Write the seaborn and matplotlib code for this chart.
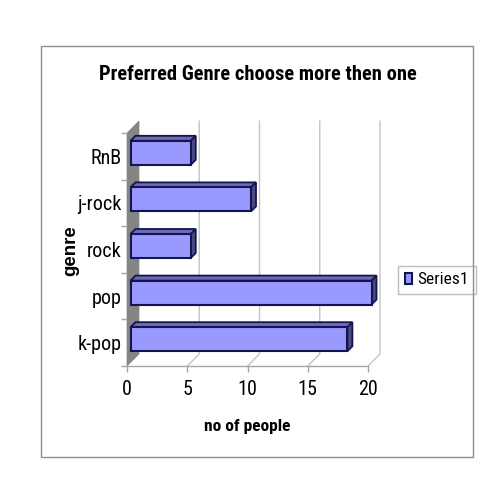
import matplotlib
matplotlib.use("Agg")
import matplotlib.pyplot as plt
import seaborn as sns
import pandas as pd
import numpy as np
from matplotlib.patches import Polygon, Rectangle
from matplotlib.lines import Line2D
from matplotlib.transforms import Affine2D, IdentityTransform

genres = ["RnB", "j-rock", "rock", "pop", "k-pop"]
people = [5, 10, 5, 20, 18]
xticks = [0, 5, 10, 15, 20]
series_name = "Series1"

sns.set_theme(style="white")
plt.rcParams['font.family'] = ['Roboto Condensed', 'Liberation Sans', 'DejaVu Sans']
plt.rcParams['text.color'] = 'black'

W, H = 480, 480
fig = plt.figure(figsize=(4.8, 4.8), dpi=100, facecolor="white")

# front plane of the fake 3d box, in pixels from the top left
left, right, top, bottom = 127, 368, 133, 366
ax = fig.add_axes([left / W, 1 - bottom / H, (right - left) / W, (bottom - top) / H])
ax.patch.set_alpha(0)

df = pd.DataFrame({"genre": genres, "people": people})
sns.barplot(data=df, x="people", y="genre", order=genres, color="#9999FF", width=24 / 46.6,
            saturation=1, edgecolor="#14144F", linewidth=1.5, label=series_name, ax=ax, zorder=4)
ax.set_xlim(0, 20)
ax.set_ylim(4.5, -0.5)

grey = "#A6A6A6"
wall = 12    # depth of the box
off = 3.5    # bars sit a little behind the front plane
depth = 5    # depth of the bars

to_px = ax.transData.transform
shift = ax.transData + Affine2D().translate(off, off)

# side wall and gridlines at the back
x0, y0 = to_px((0, 4.5))
x1, y1 = to_px((0, -0.5))
fig.add_artist(Polygon([(x0, y0), (x0 + wall, y0 + wall), (x1 + wall, y1 + wall), (x1, y1)],
                       closed=True, transform=IdentityTransform(), fc="#858585", ec="#858585", lw=0.5, zorder=0))
for t in xticks[1:]:
    a, b = to_px((t, 4.5))
    c, d = to_px((t, -0.5))
    fig.add_artist(Line2D([a, a + wall, c + wall], [b, b + wall, d + wall], color="#C4C4C4", lw=1,
                          transform=IdentityTransform(), zorder=0))

for bar in ax.patches:
    bar.set_transform(shift)
    bar.set_clip_on(False)
    bx, by = bar.get_x(), bar.get_y()
    bw, bh = bar.get_width(), bar.get_height()
    (xa, ya), (xb, yb) = shift.transform([(bx + bw, by), (bx, by + bh)])
    # ya is the upper edge because the y axis is inverted
    ax.add_patch(Polygon([(xb, ya), (xb + depth, ya + depth), (xa + depth, ya + depth), (xa, ya)], closed=True,
                         transform=IdentityTransform(), fc="#6B6BB8", ec="#14144F", lw=1.3, clip_on=False, zorder=3))
    ax.add_patch(Polygon([(xa, ya), (xa + depth, ya + depth), (xa + depth, yb + depth), (xa, yb)], closed=True,
                         transform=IdentityTransform(), fc="#4A4A85", ec="#14144F", lw=1.3, clip_on=False, zorder=3))

for side in ["top", "right", "left"]:
    ax.spines[side].set_visible(False)
ax.spines["bottom"].set_color(grey)
ax.spines["bottom"].set_linewidth(1)

ax.set_xticks(xticks)
ax.tick_params(axis="x", length=4, width=1, color=grey, labelsize=14.5, labelcolor="black", pad=6, bottom=True)
ax.tick_params(axis="y", which="major", length=0, labelsize=14.5, labelcolor="black", pad=4)
ax.set_yticks(np.arange(-0.5, 5), minor=True)
ax.tick_params(axis="y", which="minor", length=4, width=1, color=grey, left=True)

ax.set_xlabel("")
ax.set_ylabel("")
fig.text(247 / W, 1 - 426 / H, "no of people", ha="center", va="center", fontsize=12.5, fontweight="bold")
fig.text(71 / W, 1 - 251 / H, "genre", ha="center", va="center", rotation=90, fontsize=13.5,
         fontweight="bold", family="Liberation Sans")
fig.text(257.5 / W, 1 - 75 / H, "Preferred Genre choose more then one", ha="center", va="center",
         fontsize=14.8, fontweight="bold")

leg = ax.legend(loc="center left", bbox_to_anchor=(398 / W, 1 - 280 / H), bbox_transform=fig.transFigure,
                fontsize=12.5, frameon=True, fancybox=False, edgecolor="#BDBDBD", framealpha=1,
                handlelength=0.4, handleheight=0.6, handletextpad=0.3, borderpad=0.4, borderaxespad=0)
leg.get_frame().set_linewidth(1)

fig.add_artist(Rectangle((41 / W, 1 - 457 / H), 432 / W, 411 / H, transform=fig.transFigure,
                         fill=False, ec="#8C8C8C", lw=1))

fig.savefig("out.png", dpi=100)
